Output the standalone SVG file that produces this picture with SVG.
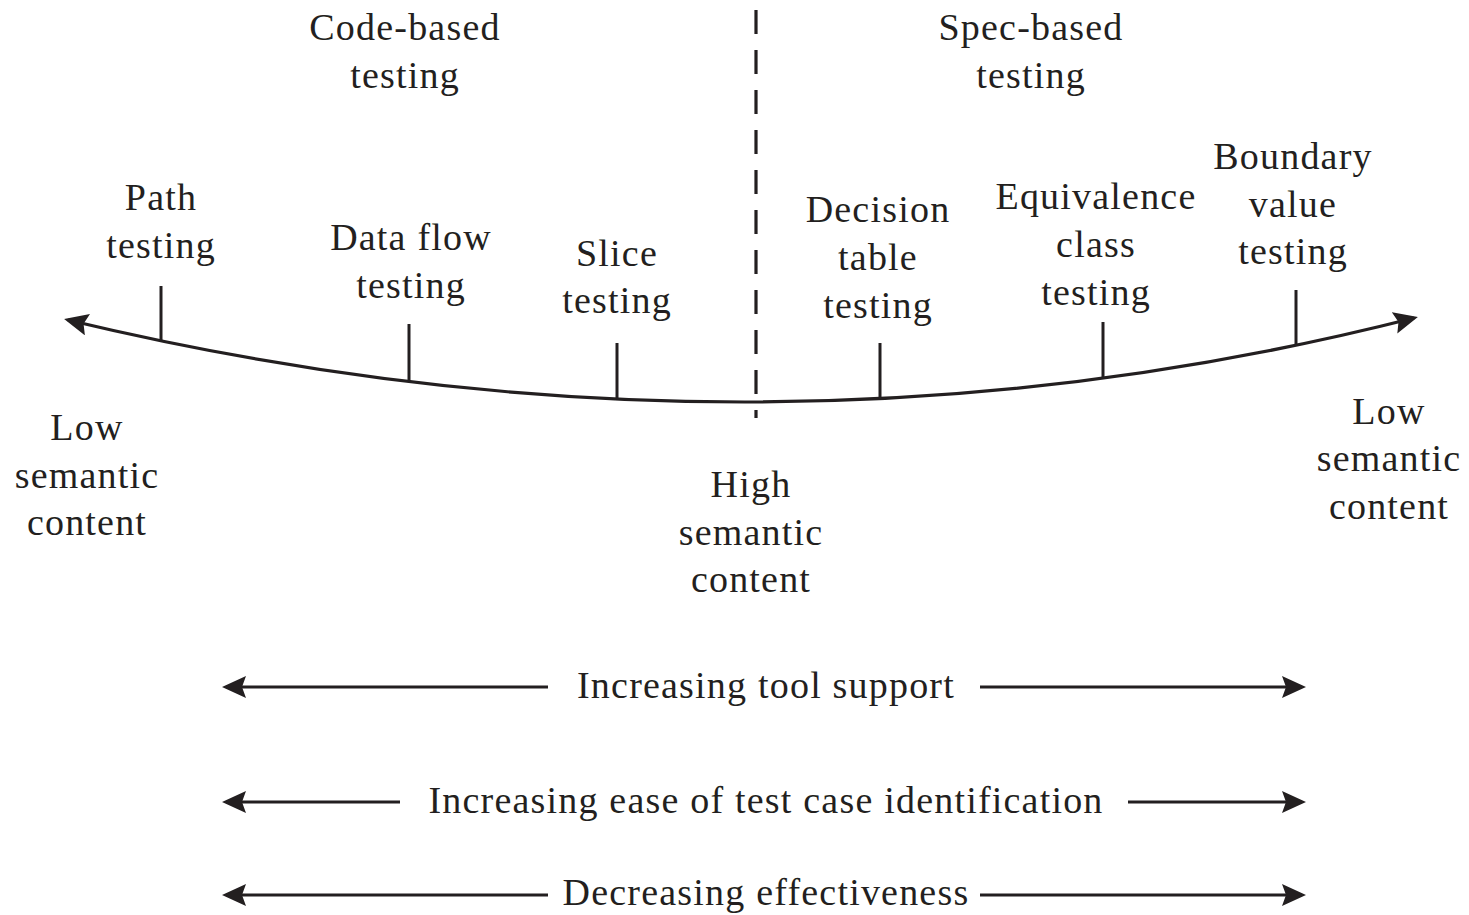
<svg xmlns="http://www.w3.org/2000/svg" width="1469" height="915" viewBox="0 0 1469 915">
<style>
text{font-family:"Liberation Serif","DejaVu Serif",serif;font-size:38px;letter-spacing:1.2px;fill:#231f20;text-anchor:middle}
.ln{stroke:#231f20;stroke-width:3.2;fill:none}
.tk{stroke:#231f20;stroke-width:3}
</style>
<defs>
<marker id="ah" viewBox="0 0 24 22" refX="20" refY="11" markerWidth="24" markerHeight="22" markerUnits="userSpaceOnUse" orient="auto-start-reverse">
<path d="M0,0 L24,11 L0,22 L4,11 Z" fill="#231f20"/>
</marker>
</defs>
<rect width="1469" height="915" fill="#fff"/>
<g id="connectors">
<path class="ln" d="M68,320 Q756,485 1414,318" marker-start="url(#ah)" marker-end="url(#ah)"/>
<line class="ln" x1="756" y1="10" x2="756" y2="418" stroke-dasharray="24 16" stroke-width="2.6"/>
<line class="tk" x1="161" y1="286" x2="161" y2="341"/>
<line class="tk" x1="409" y1="324" x2="409" y2="381"/>
<line class="tk" x1="617" y1="343" x2="617" y2="398"/>
<line class="tk" x1="880" y1="343" x2="880" y2="398"/>
<line class="tk" x1="1103" y1="322" x2="1103" y2="379"/>
<line class="tk" x1="1296" y1="290" x2="1296" y2="346"/>
<line class="ln" x1="548" y1="687" x2="226" y2="687" marker-end="url(#ah)"/>
<line class="ln" x1="980" y1="687" x2="1302" y2="687" marker-end="url(#ah)"/>
<line class="ln" x1="400" y1="802" x2="226" y2="802" marker-end="url(#ah)"/>
<line class="ln" x1="1128" y1="802" x2="1302" y2="802" marker-end="url(#ah)"/>
<line class="ln" x1="548" y1="895" x2="226" y2="895" marker-end="url(#ah)"/>
<line class="ln" x1="980" y1="895" x2="1302" y2="895" marker-end="url(#ah)"/>
</g>
<g id="code-based"><text x="405" y="40">Code-based</text><text x="405" y="88">testing</text></g>
<g id="spec-based"><text x="1031" y="40">Spec-based</text><text x="1031" y="88">testing</text></g>
<g id="path-testing"><text x="161" y="210">Path</text><text x="161" y="258">testing</text></g>
<g id="data-flow-testing"><text x="411" y="250">Data flow</text><text x="411" y="298">testing</text></g>
<g id="slice-testing"><text x="617" y="266">Slice</text><text x="617" y="313">testing</text></g>
<g id="decision-table-testing"><text x="878" y="222">Decision</text><text x="878" y="270">table</text><text x="878" y="318">testing</text></g>
<g id="equivalence-class-testing"><text x="1096" y="209">Equivalence</text><text x="1096" y="257">class</text><text x="1096" y="305">testing</text></g>
<g id="boundary-value-testing"><text x="1293" y="169">Boundary</text><text x="1293" y="217">value</text><text x="1293" y="264">testing</text></g>
<g id="low-left"><text x="87" y="440">Low</text><text x="87" y="488">semantic</text><text x="87" y="535">content</text></g>
<g id="high-center"><text x="751" y="497">High</text><text x="751" y="545">semantic</text><text x="751" y="592">content</text></g>
<g id="low-right"><text x="1389" y="424">Low</text><text x="1389" y="471">semantic</text><text x="1389" y="519">content</text></g>
<g id="tool-support"><text x="766" y="698">Increasing tool support</text></g>
<g id="ease"><text x="766" y="813">Increasing ease of test case identification</text></g>
<g id="effectiveness"><text x="766" y="905">Decreasing effectiveness</text></g>
</svg>
